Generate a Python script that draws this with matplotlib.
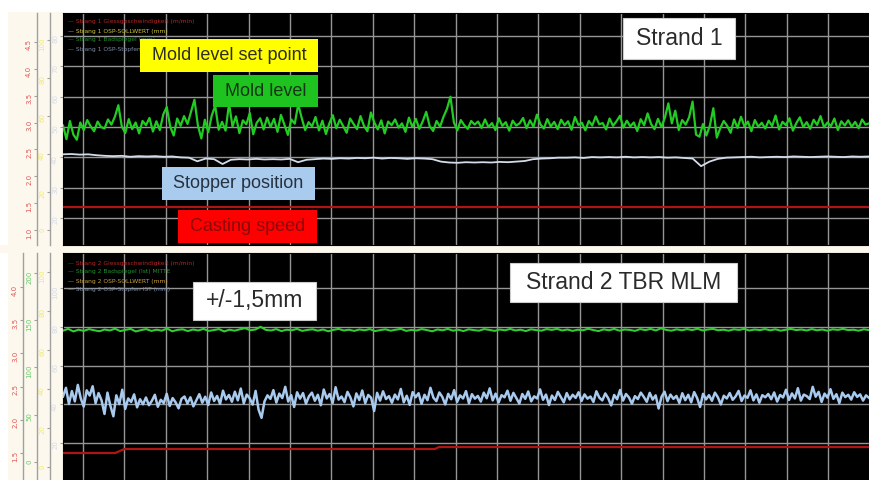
import numpy as np
import matplotlib
matplotlib.use('Agg')
import matplotlib.pyplot as plt
from matplotlib.patches import Rectangle

# ---------------- data ----------------
# Strand 1 mold level (white-axis units), sampled evenly over the time window
top_level = [
    50.5, 46.0, 52.0, 47.5, 45.8, 51.5, 49.0, 52.3, 50.2, 48.6, 51.8, 50.0,
    49.5, 52.5, 50.8, 53.4, 57.2, 50.2, 48.0, 52.6, 49.3, 51.5, 47.9, 52.0,
    50.6, 53.0, 48.5, 51.9, 49.0, 54.2, 56.6, 50.1, 47.2, 52.8, 50.4, 53.6,
    51.0, 55.0, 59.0, 50.5, 46.2, 52.4, 48.3, 53.8, 57.0, 49.1, 51.7, 48.8,
    57.8, 50.2, 53.5, 48.0, 52.2, 50.9, 54.6, 47.6, 51.4, 52.9, 49.2, 53.1,
    50.0, 52.7, 48.4, 54.0, 50.8, 47.4, 52.5, 51.1, 57.5, 53.0, 49.0, 51.6,
    50.2, 53.3, 48.9, 52.1, 47.7, 51.2, 53.9, 49.6, 52.4, 50.3, 48.1, 52.8,
    51.0, 49.3, 53.6, 50.4, 48.6, 54.8, 51.5, 49.2, 52.2, 47.9, 51.8, 50.6,
    52.5, 49.8, 51.2, 48.4, 53.1, 50.0, 52.7, 49.4, 51.9, 55.0, 50.3, 48.7,
    52.0, 50.1, 53.4, 56.0, 60.0, 51.5, 48.9, 52.3, 50.6, 49.4, 52.0, 50.8,
    51.8, 49.7, 52.5, 50.0, 51.3, 49.0, 52.9, 50.4, 51.6, 48.8, 52.1, 50.5,
    51.2, 53.0, 49.6, 52.2, 50.1, 54.1, 50.9, 49.5, 52.6, 50.2, 51.7, 49.3,
    52.4, 50.6, 51.9, 49.1, 53.3, 50.7, 51.4, 48.9, 52.0, 50.5, 53.5, 50.9,
    51.3, 49.2, 52.8, 50.4, 51.9, 53.7, 49.8, 52.1, 50.2, 51.5, 48.7, 52.6,
    50.6, 54.5, 51.0, 49.3, 52.7, 50.0, 53.1, 57.8, 51.2, 55.4, 49.0, 52.3,
    50.8, 53.2, 58.4, 47.5, 46.8, 51.0, 47.2, 50.5, 56.2, 46.5, 49.6, 52.0,
    50.4, 48.1, 52.5, 49.7, 53.4, 50.2, 51.8, 48.6, 52.3, 50.1, 51.4, 49.5,
    52.1, 50.3, 53.8, 49.2, 51.7, 50.6, 52.9, 48.8, 51.3, 53.2, 50.0, 51.6,
    49.4, 52.4, 50.7, 53.6, 49.9, 51.5, 50.3, 52.8, 49.0, 51.9, 50.5, 52.2,
    50.1, 51.7, 49.6, 52.5, 50.8, 51.2,
]
# Strand 1 stopper position
top_stopper = [
    41.0, 41.1, 40.9, 41.0, 40.7,
    40.5, 40.4, 40.5, 40.2, 40.4,
    40.3, 40.4, 40.2, 40.3, 40.0,
    39.9, 38.7, 39.6, 39.4, 37.8,
    39.2, 39.4, 39.3, 39.5, 39.3,
    39.4, 39.3, 39.5, 38.4, 39.2,
    39.4, 39.6, 39.5, 39.7, 39.6,
    39.8, 39.7, 39.9, 39.6, 39.8,
    39.7, 39.5, 39.7, 39.6, 39.4,
    38.6, 38.3, 38.2, 38.4, 38.3,
    38.4, 38.3, 38.5, 38.4, 38.6,
    38.8, 39.4, 39.6, 39.7, 39.9,
    39.9, 40.0, 39.8, 40.1, 40.0,
    40.1, 40.0, 40.2, 40.0, 40.1,
    40.0, 40.1, 39.9, 40.0, 39.8,
    39.6, 37.1, 38.6, 39.5, 39.9,
    40.0, 40.1, 40.2, 40.0, 40.1,
    40.2, 40.1, 40.3, 40.2, 40.1,
    40.2, 40.3, 40.2, 40.1, 40.3,
    40.2, 40.3,
]
# Strand 1 casting speed (m/min)
top_speed_t = [-0.48, 18.99]
top_speed = [1.43, 1.43]

# Strand 2 mold level
bot_level = [
    78.0, 78.9, 77.6, 78.5, 77.9, 78.8, 78.2, 77.7,
    78.6, 78.1, 79.0, 77.8, 78.4, 78.9, 77.6, 78.3,
    78.8, 77.9, 78.5, 78.0, 79.1, 77.7, 78.4, 78.7,
    77.8, 78.6, 78.1, 78.9, 77.9, 78.3, 78.8, 77.6,
    78.5, 78.0, 78.7, 79.3, 78.2, 78.6, 80.0, 78.4,
    78.1, 78.8, 77.8, 78.5, 78.2, 78.9, 77.9, 78.4,
    78.7, 78.0, 78.6, 77.7, 78.4, 78.9, 78.1, 78.5,
    77.9, 78.6, 78.2, 78.8, 77.8, 78.3, 78.7, 78.0,
    78.5, 78.9, 77.9, 78.4, 78.1, 78.8, 78.3, 77.7,
    78.6, 78.2, 78.9, 78.0, 78.5, 77.8, 78.7, 78.3,
    78.0, 78.8, 78.4, 77.9, 78.6, 78.2, 78.9, 78.1,
    78.5, 77.8, 78.7, 78.3, 78.0, 78.8, 78.4, 78.9,
    78.1, 78.6, 77.9, 78.5, 78.2, 79.0, 78.3, 77.8,
    78.7, 78.2, 78.9, 78.0, 78.6, 78.4, 77.9, 78.8,
    78.3, 78.9, 78.1, 79.2, 78.4, 78.0, 78.7, 78.2,
    78.8, 78.3, 79.0, 78.1, 78.6, 78.9, 78.2, 78.5,
    78.0, 78.7, 78.4, 78.9, 78.1, 78.6, 78.3, 78.8,
    78.2, 78.7, 78.0, 78.5, 78.9, 78.3, 78.6, 78.1,
    78.8, 78.2, 78.6, 78.0, 78.7, 78.4, 78.9, 78.3,
    78.5, 78.0, 78.7, 78.3,
]
# Strand 2 stopper position
bot_stopper = [
    44.0, 48.5, 40.2, 46.8, 41.5, 50.0, 43.0, 38.8, 47.2, 44.5, 49.3, 40.6, 45.8, 42.1,
    35.0, 46.0, 39.2, 33.8, 44.6, 40.1, 47.5, 37.6, 43.0, 41.2, 45.1, 38.4, 42.6, 40.0,
    43.5, 39.5, 41.8, 44.9, 38.7, 42.3, 40.6, 45.4, 39.1, 43.2, 41.0, 37.9, 42.8, 44.0,
    40.4, 43.6, 38.9, 42.0, 45.2, 40.8, 43.9, 39.6, 46.1, 41.7, 44.3, 40.2, 47.0, 42.5,
    44.8, 41.3, 46.5, 42.0, 48.1, 40.5, 45.0, 43.1, 39.8, 46.9, 37.2, 33.0, 41.5, 44.6,
    42.8, 47.3, 40.9, 45.5, 43.2, 49.0, 41.4, 44.7, 38.6, 46.2, 42.9, 45.8, 40.3, 44.1,
    46.0, 41.8, 44.9, 39.5, 47.6, 43.0, 45.3, 40.7, 48.8, 42.4, 44.0, 41.1, 46.4, 43.5,
    38.9, 45.6, 42.2, 47.1, 40.6, 44.8, 43.3, 36.5, 45.9, 41.9, 46.7, 42.7, 44.2, 40.8,
    45.0, 42.5, 47.9, 41.0, 44.4, 39.7, 46.3, 43.6, 45.7, 40.2, 44.9, 42.1, 48.5, 43.4,
    41.6, 46.1, 43.8, 39.9, 45.4, 42.6, 47.3, 41.2, 44.6, 43.0, 46.8, 40.5, 45.2, 42.9,
    44.3, 41.4, 46.0, 43.1, 48.2, 42.0, 45.5, 40.9, 44.7, 43.6, 47.0, 41.8, 45.9, 43.2,
    40.4, 45.3, 42.8, 46.6, 41.5, 44.1, 43.0, 47.7, 42.3, 45.0, 39.6, 44.5, 42.2, 46.4,
    43.7, 41.0, 45.8, 42.5, 44.9, 43.3, 46.2, 41.7, 45.1, 42.9, 44.0, 41.2, 46.7, 43.4,
    42.0, 45.6, 43.1, 39.4, 44.8, 42.6, 47.4, 41.9, 45.3, 43.5, 40.3, 44.2, 42.7, 46.0,
    43.8, 41.3, 45.9, 42.4, 44.6, 37.8, 43.9, 46.5, 41.6, 45.0, 42.8, 44.3, 40.7, 45.7,
    42.1, 44.9, 41.0, 46.3, 43.2, 38.6, 45.4, 42.5, 44.7, 41.8, 46.0, 43.6, 39.9, 44.4,
    43.0, 45.8, 42.3, 44.1, 46.9, 41.7, 44.5, 43.3, 47.2, 42.0, 45.1, 40.8, 44.7, 43.6,
    45.3, 42.6, 46.1, 41.4, 44.8, 43.5, 47.5, 42.2, 45.6, 43.0, 48.3, 41.9, 45.0, 44.2,
    42.7, 49.0, 43.9, 46.4, 41.2, 45.5, 43.4, 47.8, 42.8, 45.2, 40.6, 46.0, 43.7, 44.9,
    42.4, 46.2, 43.8, 45.1, 41.9, 44.6, 43.3,
]
# Strand 2 casting speed (m/min)
bot_speed_t = [-0.48, 0.78, 1.0, 8.5, 8.6, 18.99]
bot_speed = [1.50, 1.50, 1.56, 1.56, 1.59, 1.59]

# axis tick labels
top_white_ticks = [20, 30, 40, 50, 60, 70, 80]
top_red_ticks = [1.0, 1.5, 2.0, 2.5, 3.0, 3.5, 4.0, 4.5]
top_yellow_ticks = [0, 20, 40, 60, 80, 100]
bot_white_ticks = [20, 40, 60, 80, 100]
bot_red_ticks = [1.5, 2.0, 2.5, 3.0, 3.5, 4.0]
bot_green_ticks = [0, 50, 100, 150, 200]
bot_yellow_ticks = [0, 20, 40, 60, 80, 100]
time_ticks = list(range(0, 19))

top_legend = ["Strang 1 Giessgeschwindigkeit (m/min)", "Strang 1 OSP-SOLLWERT (mm)",
              "Strang 1 Badspiegel (mm)", "Strang 1 OSP-Stopfen (mm)"]
bot_legend = ["Strang 2 Giessgeschwindigkeit (m/min)", "Strang 2 Badspiegel (Ist) MITTE",
              "Strang 2 OSP-SOLLWERT (mm)", "Strang 2 OSP-Stopfen IST (mm)"]

# ---------------- layout ----------------
W, H = 869, 480
XMIN, XMAX = -0.483, 18.986
CREAM = '#fcf8ee'
GRID = '#959595'
SPINE = '#a0a0a0'

fig = plt.figure(figsize=(W / 100, H / 100), dpi=100, facecolor='white')


def fr(x0, y0, x1, y1):
    return [x0 / W, 1 - y1 / H, (x1 - x0) / W, (y1 - y0) / H]


def bg(x0, y0, x1, y1, color):
    b = fr(x0, y0, x1, y1)
    fig.add_artist(Rectangle((b[0], b[1]), b[2], b[3], transform=fig.transFigure,
                             facecolor=color, edgecolor='none', zorder=-5))


bg(8, 12, 63, 245, CREAM)
bg(8, 253, 63, 480, CREAM)
bg(0, 245, W, 253, CREAM)


def panel(rect, ylim, wticks):
    ax = fig.add_axes(fr(*rect))
    ax.set_facecolor('black')
    ax.set_xlim(XMIN, XMAX)
    ax.set_ylim(*ylim)
    ax.set_xticks(time_ticks)
    ax.set_yticks(wticks)
    ax.set_yticklabels([str(v) for v in wticks])
    ax.grid(True, color=GRID, lw=1.0)
    ax.set_axisbelow(True)
    ax.tick_params(axis='x', length=0, labelbottom=False)
    ax.tick_params(axis='y', colors=SPINE, labelcolor='#d4dbe6', labelsize=5,
                   length=2.5, width=0.8, pad=1, labelrotation=90)
    for s in ax.spines.values():
        s.set_color('black')
    return ax


def side_axis(ax, xpx, lim, ticks, color, fmt):
    t = ax.twinx()
    t.set_ylim(*lim)
    t.yaxis.set_ticks_position('left')
    t.yaxis.set_label_position('left')
    for s in ['top', 'right', 'bottom']:
        t.spines[s].set_visible(False)
    t.spines['left'].set_visible(True)
    t.spines['left'].set_position(('axes', (xpx - 63) / 806))
    t.spines['left'].set_color(SPINE)
    t.spines['left'].set_linewidth(1.0)
    t.set_yticks(ticks)
    t.set_yticklabels([fmt.format(v) for v in ticks])
    t.tick_params(axis='y', colors=SPINE, labelcolor=color, labelsize=5,
                  length=2.5, width=0.8, pad=1, labelrotation=90)
    return t


# ---- top panel (Strand 1) ----
ax1 = panel((63, 13, 869, 245), (11.1, 87.6), top_white_ticks)
x = np.linspace(XMIN, XMAX, len(top_level))
ax1.plot(x, top_level, color='#22cc22', lw=1.6, zorder=3)
x = np.linspace(XMIN, XMAX, len(top_stopper))
ax1.plot(x, top_stopper, color='#d2dcea', lw=1.3, zorder=3)
ax1y = side_axis(ax1, 50, (-7.9, 114.2), top_yellow_ticks, '#f2ea6a', '{}')
ax1r = side_axis(ax1, 37, (0.72, 5.04), top_red_ticks, '#e05555', '{:.1f}')
ax1r.plot(top_speed_t, top_speed, color='#b01515', lw=1.6, zorder=3)

# ---- bottom panel (Strand 2) ----
ax2 = panel((63, 253, 869, 480), (0.9, 118.1), bot_white_ticks)
x = np.linspace(XMIN, XMAX, len(bot_level))
ax2.plot(x, bot_level, color='#33cc33', lw=1.5, zorder=3)
x = np.linspace(XMIN, XMAX, len(bot_stopper))
ax2.plot(x, bot_stopper, color='#a8caee', lw=1.8, zorder=3)
ax2y = side_axis(ax2, 50, (-6.7, 109.7), bot_yellow_ticks, '#f2ea6a', '{}')
ax2g = side_axis(ax2, 37, (-19.1, 221.2), bot_green_ticks, '#66cc66', '{}')
ax2r = side_axis(ax2, 23, (1.093, 4.512), bot_red_ticks, '#e05555', '{:.1f}')
ax2r.plot(bot_speed_t, bot_speed, color='#b01515', lw=1.6, zorder=3)

# ---- tiny legends ----
top_leg_colors = ['#b82525', '#cfc437', '#23912a', '#7d8ca3']
bot_leg_colors = ['#b82525', '#23912a', '#c9a23a', '#7d8ca3']
for i, (txt, c) in enumerate(zip(top_legend, top_leg_colors)):
    fig.text(68 / W, 1 - (22 + 9 * i) / H, '\u2014 ' + txt, color=c, fontsize=4.3,
             va='center', ha='left', zorder=6)
for i, (txt, c) in enumerate(zip(bot_legend, bot_leg_colors)):
    fig.text(68 / W, 1 - (263 + 9 * i) / H, '\u2014 ' + txt, color=c, fontsize=4.3,
             va='center', ha='left', zorder=6)


# ---- annotation boxes ----
def box(x0, y0, x1, y1, text, fc, tc, fs, ec='none'):
    b = fr(x0, y0, x1, y1)
    fig.add_artist(Rectangle((b[0], b[1]), b[2], b[3], transform=fig.transFigure,
                             facecolor=fc, edgecolor=ec, lw=0.8, zorder=8))
    fig.text(b[0] + b[2] / 2, b[1] + b[3] / 2, text, color=tc, fontsize=fs,
             family='Liberation Sans', ha='center', va='center', zorder=9)


box(140, 39, 318, 72, 'Mold level set point', '#ffff00', '#2e2e1a', 13)
box(213, 75, 318, 107, 'Mold level', '#1fc31f', '#173517', 13)
box(162, 167, 315, 200, 'Stopper position', '#a9cbee', '#26323f', 13)
box(178, 210, 317, 243, 'Casting speed', '#ff0000', '#8a0a0a', 13)
box(623, 18, 735, 59, 'Strand 1', 'white', '#2a2a2a', 16.5, ec='#cccccc')
box(510, 263, 737, 302, 'Strand 2 TBR MLM', 'white', '#2a2a2a', 16.5, ec='#cccccc')
box(193, 282, 316, 320, '+/-1,5mm', 'white', '#2a2a2a', 16.5, ec='#cccccc')

fig.savefig('out.png', dpi=100, facecolor='white')
